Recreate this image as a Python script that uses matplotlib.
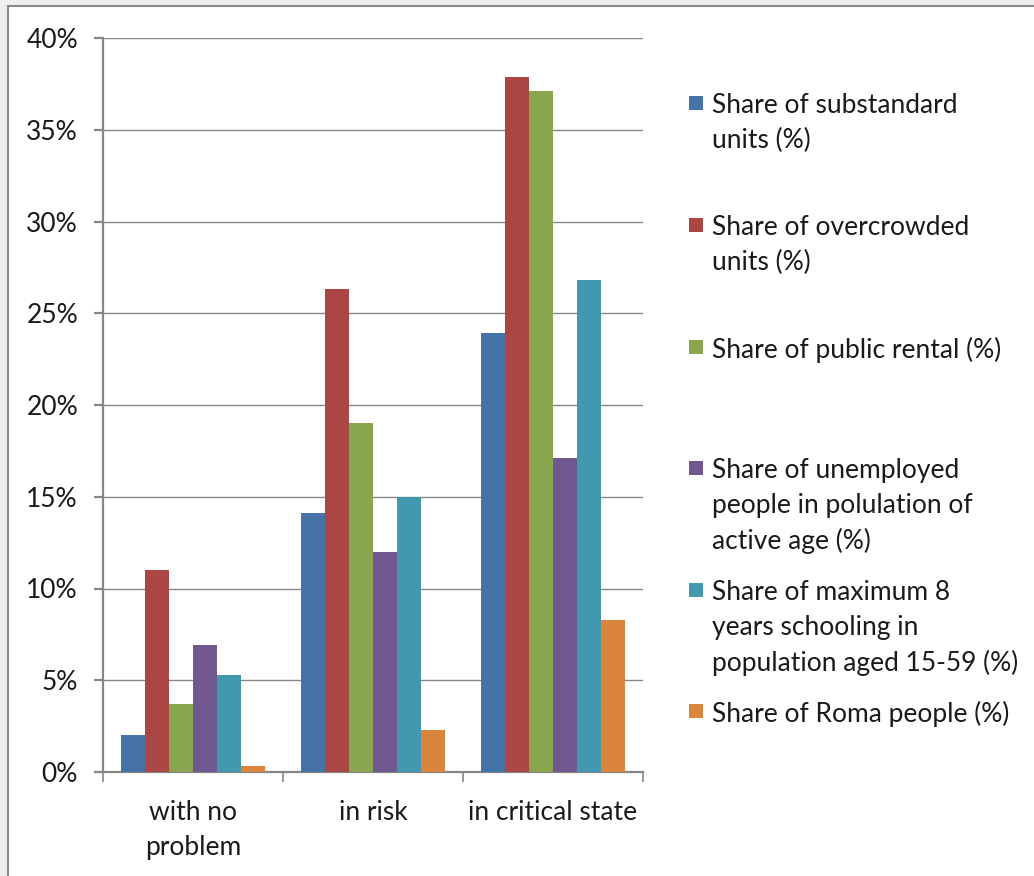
import matplotlib
matplotlib.use("Agg")
import matplotlib.pyplot as plt
import matplotlib.transforms as mtransforms
import numpy as np
from matplotlib.patches import Rectangle
from matplotlib.lines import Line2D
from matplotlib.ticker import FuncFormatter, MultipleLocator

plt.rcParams['font.family'] = ['Lato', 'DejaVu Sans']

categories = ["with no\nproblem", "in risk", "in critical state"]
series_names = [
    "Share of substandard\nunits (%)",
    "Share of overcrowded\nunits (%)",
    "Share of public rental (%)",
    "Share of unemployed\npeople in polulation of\nactive age (%)",
    "Share of maximum 8\nyears schooling in\npopulation aged 15-59 (%)",
    "Share of Roma people (%)",
]
substandard = [2.0, 14.1, 23.9]
overcrowded = [11.0, 26.3, 37.9]
public_rental = [3.7, 19.0, 37.1]
unemployed = [6.9, 12.0, 17.1]
schooling = [5.3, 15.0, 26.8]
roma = [0.3, 2.3, 8.3]
series_values = [substandard, overcrowded, public_rental, unemployed, schooling, roma]
colors = ["#4572A7", "#AA4643", "#89A54E", "#71588F", "#4198AF", "#DB843D"]

TEXT_COLOR = "#1a1a1a"
FS = 19
LINE_STEP = 35  # pixel distance between wrapped text lines

W, H = 1034, 876
fig = plt.figure(figsize=(W / 100, H / 100), dpi=100)
fig.patch.set_facecolor("white")


def fy(py):
    """Pixel row measured from the top -> figure fraction."""
    return 1 - py / H


# light grey window margin with a thin grey frame
fig.patches.append(Rectangle((0, 0), 7 / W, 1, transform=fig.transFigure,
                             facecolor="#efefef", edgecolor="none", zorder=0))
fig.patches.append(Rectangle((0, fy(5)), 1, 5 / H, transform=fig.transFigure,
                             facecolor="#efefef", edgecolor="none", zorder=0))
fig.lines.append(Line2D([7.5 / W, 7.5 / W], [0, fy(5.5)], transform=fig.transFigure,
                        color="#8a8a8a", lw=1.5))
fig.lines.append(Line2D([7.5 / W, 1], [fy(5.5), fy(5.5)], transform=fig.transFigure,
                        color="#8a8a8a", lw=1.5))

ax_left, ax_right, ax_top, ax_bottom = 103, 643, 38, 772
ax = fig.add_axes([ax_left / W, fy(ax_bottom),
                   (ax_right - ax_left) / W, (ax_bottom - ax_top) / H])

n = len(series_values)
group_w = 0.8
bar_w = group_w / n
x = np.arange(len(categories))
for i, (vals, c) in enumerate(zip(series_values, colors)):
    offs = -group_w / 2 + bar_w * (i + 0.5)
    ax.bar(x + offs, vals, width=bar_w, color=c, zorder=3, linewidth=0)

ax.set_xlim(-0.5, len(categories) - 0.5)
ax.set_ylim(0, 40)
ax.yaxis.set_major_locator(MultipleLocator(5))
ax.yaxis.set_major_formatter(FuncFormatter(lambda v, p: f"{v:.0f}%"))
ax.grid(axis="y", color="#868686", lw=1.0, zorder=1)
ax.set_axisbelow(True)

for s in ["top", "right"]:
    ax.spines[s].set_visible(False)
for s in ["left", "bottom"]:
    ax.spines[s].set_color("#868686")
    ax.spines[s].set_linewidth(1.6)

ax.set_xticks([])
ax.set_xticks(np.arange(len(categories) + 1) - 0.5, minor=True)
ax.tick_params(axis="x", which="minor", length=7, width=1.2, color="#868686")
ax.tick_params(axis="y", length=6.5, width=1.6, color="#868686",
               labelsize=FS, labelcolor=TEXT_COLOR, pad=11.5)

# category labels, one text per wrapped line
cat_tr = mtransforms.blended_transform_factory(ax.transData, fig.transFigure)
for xi, lab in zip(x, categories):
    for k, line in enumerate(lab.split("\n")):
        ax.text(xi, fy(810 + k * LINE_STEP), line, transform=cat_tr,
                ha="center", va="center_baseline", fontsize=FS, color=TEXT_COLOR)

# legend laid out as in a spreadsheet chart
legend_y = [103, 225, 347, 468, 590, 711]
for name, c, yy in zip(series_names, colors, legend_y):
    fig.patches.append(Rectangle((689 / W, fy(yy + 7)), 14 / W, 14 / H,
                                 transform=fig.transFigure, facecolor=c,
                                 edgecolor="none"))
    for k, line in enumerate(name.split("\n")):
        fig.text(712 / W, fy(yy + k * LINE_STEP), line, ha="left",
                 va="center_baseline", fontsize=FS, color=TEXT_COLOR)

fig.savefig("out.png", dpi=100, facecolor=fig.get_facecolor())
